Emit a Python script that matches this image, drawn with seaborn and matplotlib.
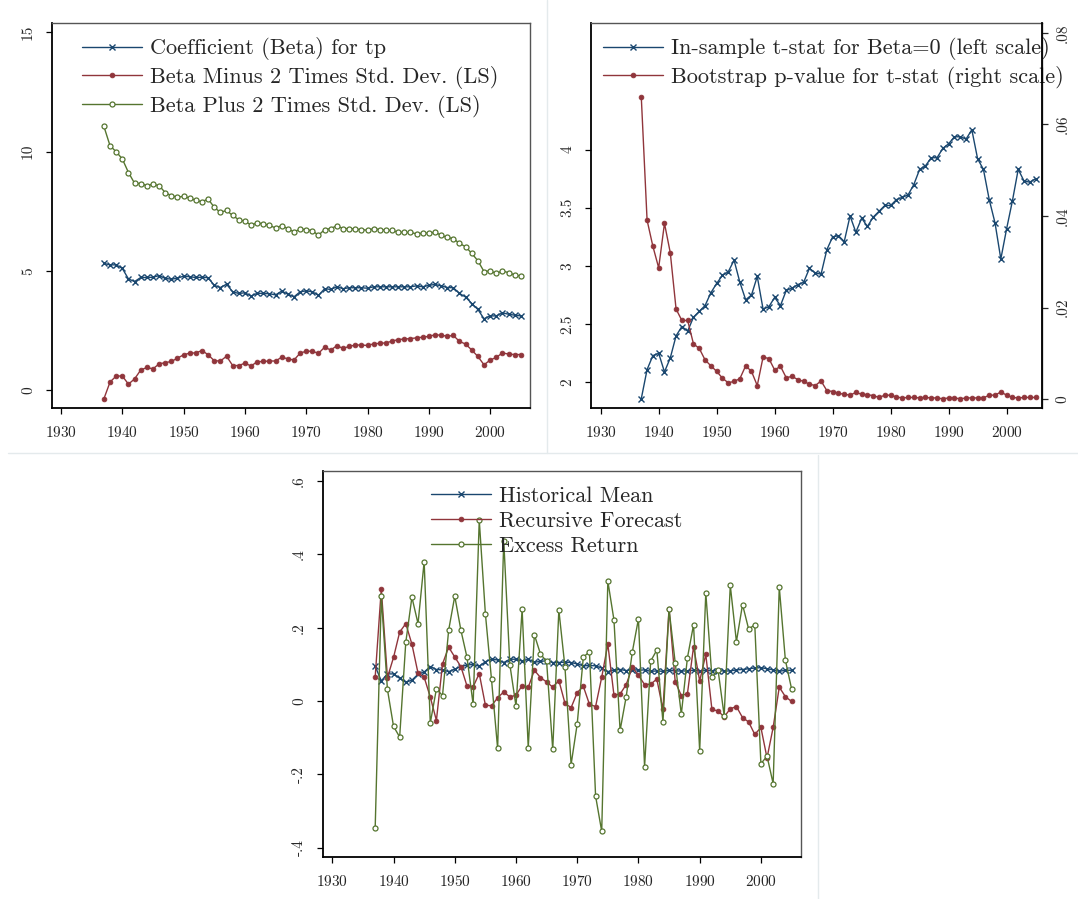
import matplotlib
matplotlib.use("Agg")
import matplotlib.pyplot as plt
from matplotlib.lines import Line2D
import seaborn as sns

years = list(range(1937, 2006))

# panel 1: rolling coefficient and +/- 2 sd band
beta = [5.31, 5.25, 5.25, 5.10, 4.66, 4.55, 4.72, 4.72, 4.73, 4.80,
        4.68, 4.65, 4.69, 4.78, 4.75, 4.72, 4.73, 4.71, 4.39, 4.30,
        4.44, 4.12, 4.05, 4.08, 3.94, 4.06, 4.05, 4.04, 3.99, 4.15,
        4.02, 3.91, 4.12, 4.16, 4.12, 3.97, 4.25, 4.22, 4.33, 4.25,
        4.29, 4.29, 4.29, 4.27, 4.33, 4.33, 4.33, 4.33, 4.33, 4.33,
        4.33, 4.37, 4.33, 4.39, 4.43, 4.37, 4.30, 4.29, 4.05, 3.90,
        3.63, 3.38, 2.99, 3.11, 3.11, 3.24, 3.18, 3.14, 3.11]
beta_lo = [-0.36, 0.34, 0.59, 0.59, 0.25, 0.47, 0.84, 0.95, 0.89, 1.10,
           1.15, 1.20, 1.34, 1.48, 1.55, 1.56, 1.66, 1.48, 1.23, 1.22,
           1.42, 1.03, 1.03, 1.13, 1.01, 1.19, 1.20, 1.22, 1.22, 1.38,
           1.31, 1.26, 1.55, 1.63, 1.63, 1.54, 1.80, 1.68, 1.86, 1.75,
           1.83, 1.89, 1.89, 1.87, 1.94, 1.96, 1.98, 2.05, 2.12, 2.14,
           2.16, 2.19, 2.22, 2.25, 2.32, 2.30, 2.26, 2.29, 2.04, 1.93,
           1.68, 1.41, 1.06, 1.26, 1.37, 1.56, 1.51, 1.49, 1.49]
beta_hi = [11.05, 10.24, 9.99, 9.69, 9.12, 8.67, 8.66, 8.57, 8.63, 8.57,
           8.28, 8.15, 8.09, 8.12, 8.05, 7.95, 7.90, 8.01, 7.66, 7.45,
           7.53, 7.32, 7.14, 7.08, 6.92, 7.01, 6.97, 6.90, 6.80, 6.89,
           6.77, 6.63, 6.75, 6.73, 6.68, 6.49, 6.73, 6.77, 6.89, 6.77,
           6.77, 6.75, 6.73, 6.70, 6.77, 6.73, 6.70, 6.69, 6.62, 6.61,
           6.61, 6.55, 6.58, 6.58, 6.62, 6.49, 6.40, 6.35, 6.15, 6.01,
           5.73, 5.42, 4.97, 5.00, 4.89, 5.00, 4.92, 4.83, 4.78]

# panel 2: t-stat (left) and bootstrap p-value (right)
tstat = [1.86, 2.11, 2.23, 2.25, 2.09, 2.21, 2.40, 2.48, 2.44, 2.56,
         2.61, 2.66, 2.77, 2.85, 2.92, 2.95, 3.05, 2.86, 2.71, 2.75,
         2.91, 2.63, 2.65, 2.73, 2.66, 2.79, 2.81, 2.84, 2.86, 2.98,
         2.94, 2.93, 3.14, 3.25, 3.26, 3.21, 3.43, 3.29, 3.41, 3.34,
         3.42, 3.47, 3.52, 3.52, 3.57, 3.59, 3.61, 3.70, 3.83, 3.86,
         3.93, 3.93, 4.01, 4.05, 4.11, 4.11, 4.09, 4.17, 3.92, 3.83,
         3.57, 3.37, 3.06, 3.32, 3.56, 3.83, 3.73, 3.72, 3.75]
pvalue = [0.0660, 0.0391, 0.0334, 0.0287, 0.0384, 0.0320, 0.0197, 0.0172, 0.0172, 0.0121,
          0.0111, 0.0086, 0.0073, 0.0061, 0.0046, 0.0036, 0.0039, 0.0045, 0.0073, 0.0061,
          0.0030, 0.0092, 0.0089, 0.0064, 0.0072, 0.0047, 0.0050, 0.0043, 0.0039, 0.0033,
          0.0030, 0.0040, 0.0019, 0.0017, 0.0013, 0.0011, 0.0009, 0.0015, 0.0011, 0.0010,
          0.0008, 0.0004, 0.0009, 0.0009, 0.0005, 0.0003, 0.0004, 0.0004, 0.0003, 0.0004,
          0.0003, 0.0003, 0.0001, 0.0003, 0.0003, 0.0001, 0.0003, 0.0003, 0.0003, 0.0003,
          0.0009, 0.0009, 0.0016, 0.0009, 0.0004, 0.0003, 0.0004, 0.0004, 0.0004]

# panel 3: forecasts vs realised excess return
hist_mean = [0.095, 0.055, 0.074, 0.074, 0.062, 0.051, 0.057, 0.073, 0.079, 0.094,
             0.086, 0.085, 0.080, 0.087, 0.094, 0.098, 0.100, 0.095, 0.107, 0.114,
             0.112, 0.105, 0.114, 0.114, 0.109, 0.114, 0.106, 0.108, 0.110, 0.105,
             0.105, 0.106, 0.105, 0.101, 0.096, 0.097, 0.096, 0.090, 0.080, 0.085,
             0.086, 0.083, 0.086, 0.084, 0.085, 0.081, 0.082, 0.081, 0.084, 0.082,
             0.082, 0.082, 0.084, 0.082, 0.084, 0.082, 0.083, 0.082, 0.082, 0.085,
             0.086, 0.088, 0.090, 0.091, 0.088, 0.085, 0.081, 0.084, 0.084]
rec_forecast = [0.065, 0.306, 0.064, 0.119, 0.188, 0.211, 0.155, 0.076, 0.065, 0.011,
                -0.053, 0.101, 0.147, 0.120, 0.094, 0.041, 0.039, 0.075, -0.011, -0.013,
                0.009, 0.025, 0.011, 0.016, 0.042, 0.037, 0.084, 0.064, 0.052, 0.038,
                0.056, -0.006, -0.018, 0.023, 0.040, -0.009, -0.015, 0.065, 0.155, 0.016,
                0.019, 0.045, 0.092, 0.070, 0.045, 0.046, 0.060, -0.023, 0.252, 0.053,
                0.015, 0.020, 0.148, 0.055, 0.127, -0.023, -0.027, -0.043, -0.021, -0.015,
                -0.045, -0.057, -0.091, -0.072, -0.155, -0.072, 0.038, 0.012, -0.001]
excess_ret = [-0.347, 0.285, 0.032, -0.069, -0.098, 0.160, 0.283, 0.211, 0.380, -0.060,
              0.033, 0.015, 0.193, 0.286, 0.193, 0.119, -0.009, 0.493, 0.238, 0.059,
              -0.129, 0.437, 0.099, -0.014, 0.250, -0.127, 0.181, 0.128, 0.108, -0.132,
              0.248, 0.092, -0.173, -0.062, 0.120, 0.134, -0.259, -0.355, 0.327, 0.221,
              -0.080, 0.012, 0.134, 0.224, -0.179, 0.109, 0.139, -0.057, 0.250, 0.105,
              -0.036, 0.118, 0.208, -0.136, 0.295, 0.065, 0.085, -0.040, 0.315, 0.162,
              0.263, 0.196, 0.208, -0.171, -0.150, -0.225, 0.311, 0.111, 0.034]

xticks = [1930, 1940, 1950, 1960, 1970, 1980, 1990, 2000]
y1_ticks = [0, 5, 10, 15]
y1_labels = ["0", "5", "10", "15"]
y2_ticks = [2, 2.5, 3, 3.5, 4]
y2_labels = ["2", "2.5", "3", "3.5", "4"]
y2r_ticks = [0, 0.02, 0.04, 0.06, 0.08]
y2r_labels = ["0", ".02", ".04", ".06", ".08"]
y3_ticks = [-0.4, -0.2, 0, 0.2, 0.4, 0.6]
y3_labels = ["-.4", "-.2", "0", ".2", ".4", ".6"]

NAVY, MAROON, GREEN = "#1a476f", "#90353b", "#55752f"

sns.set_style("ticks")
plt.rcParams["font.family"] = ["cmr10", "DejaVu Serif"]
plt.rcParams["axes.formatter.use_mathtext"] = True

W, H = 1078, 899
fig = plt.figure(figsize=(W / 100, H / 100), dpi=100)
fig.patch.set_facecolor("white")


def box(l, t, r, b):
    return [l / W, 1 - b / H, (r - l) / W, (b - t) / H]


def style_axes(ax):
    for s in ax.spines.values():
        s.set_color("#555555")
        s.set_linewidth(1.0)
    for s in ("left", "bottom"):
        ax.spines[s].set_color("black")
        ax.spines[s].set_linewidth(1.3)
    ax.tick_params(direction="out", length=4, width=0.9, labelsize=11, pad=8, color="black")
    ax.set_xticks(xticks)
    ax.set_xlabel("")
    ax.set_ylabel("")


def series(ax, y, color, kind, label):
    kw = dict(color=color, linewidth=1.0, label=label, ax=ax)
    if kind == "x":
        kw.update(marker="x", markersize=4, markeredgewidth=1.0, markeredgecolor=color)
    elif kind == "dot":
        kw.update(marker="o", markersize=3.4, markeredgewidth=0.6, markeredgecolor=color,
                  markerfacecolor=color)
    else:
        kw.update(marker="o", markersize=3.6, markeredgewidth=0.9, markeredgecolor=color,
                  markerfacecolor="white")
    sns.lineplot(x=years, y=y, **kw)


leg_kw = dict(frameon=False, fontsize=16, handlelength=2.7, handletextpad=0.37,
              labelspacing=0.25, borderpad=0, borderaxespad=0, numpoints=1,
              loc="upper left", bbox_transform=fig.transFigure)

# ---- panel 1
ax1 = fig.add_axes(box(51.7, 22.7, 530, 408))
series(ax1, beta, NAVY, "x", "Coefficient (Beta) for tp")
series(ax1, beta_lo, MAROON, "dot", "Beta Minus 2 Times Std. Dev. (LS)")
series(ax1, beta_hi, GREEN, "hollow", "Beta Plus 2 Times Std. Dev. (LS)")
style_axes(ax1)
ax1.set_xlim(1928.48, 2006.5)
ax1.set_ylim(-0.75, 15.4)
ax1.set_yticks(y1_ticks)
ax1.set_yticklabels(y1_labels, rotation=90, va="center")
ax1.legend(bbox_to_anchor=(81.7 / W, 1 - 37.5 / H), **leg_kw)

# ---- panel 2
ax2 = fig.add_axes(box(591, 22.7, 1042, 408))
ax2r = ax2.twinx()
series(ax2, tstat, NAVY, "x", "In-sample t-stat for Beta=0 (left scale)")
series(ax2r, pvalue, MAROON, "dot", "Bootstrap p-value for t-stat (right scale)")
style_axes(ax2)
ax2.set_xlim(1928.33, 2006.1)
ax2.set_ylim(1.78, 5.09)
ax2.set_yticks(y2_ticks)
ax2.set_yticklabels(y2_labels, rotation=90, va="center")
ax2r.set_ylim(-0.0019, 0.0822)
ax2r.set_yticks(y2r_ticks)
ax2r.set_yticklabels(y2r_labels, rotation=90, va="center")
ax2r.set_ylabel("")
for s in ("left", "top", "bottom"):
    ax2r.spines[s].set_visible(False)
ax2r.spines["right"].set_color("black")
ax2r.spines["right"].set_linewidth(1.3)
ax2r.tick_params(axis="y", direction="out", length=4, width=0.9, labelsize=11, pad=6)
if ax2r.get_legend() is not None:
    ax2r.get_legend().remove()
h1, l1 = ax2.get_legend_handles_labels()
h2, l2 = ax2r.get_legend_handles_labels()
ax2.legend(h1 + h2, l1 + l2, bbox_to_anchor=(603 / W, 1 - 37.5 / H), **leg_kw)

# ---- panel 3
ax3 = fig.add_axes(box(322.7, 471, 800.7, 857))
series(ax3, hist_mean, NAVY, "x", "Historical Mean")
series(ax3, rec_forecast, MAROON, "dot", "Recursive Forecast")
series(ax3, excess_ret, GREEN, "hollow", "Excess Return")
style_axes(ax3)
ax3.set_xlim(1928.43, 2006.5)
ax3.set_ylim(-0.425, 0.627)
ax3.set_yticks(y3_ticks)
ax3.set_yticklabels(y3_labels, rotation=90, va="center")
ax3.legend(bbox_to_anchor=(431 / W, 1 - 486 / H), **leg_kw)

# faint separators between the combined graph regions
sep = "#e4eaec"
fig.add_artist(Line2D([546.7 / W] * 2, [1, 1 - 452.7 / H], transform=fig.transFigure, color=sep, lw=1))
fig.add_artist(Line2D([8 / W, 1], [1 - 452.7 / H] * 2, transform=fig.transFigure, color=sep, lw=1))
fig.add_artist(Line2D([817.7 / W] * 2, [1 - 455 / H, 0], transform=fig.transFigure, color=sep, lw=1))

fig.savefig("out.png", dpi=100, facecolor="white")
plt.close(fig)
